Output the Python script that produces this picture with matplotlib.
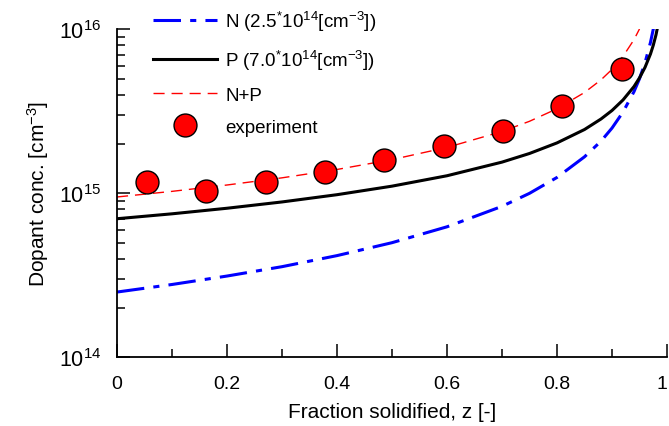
import matplotlib
matplotlib.use("Agg")
import matplotlib.pyplot as plt
from matplotlib.ticker import FixedLocator, MultipleLocator, FormatStrFormatter, LogLocator

plt.rcParams['font.family'] = ['Liberation Sans', 'DejaVu Sans']
plt.rcParams['mathtext.fontset'] = 'custom'
plt.rcParams['mathtext.rm'] = 'Liberation Sans'
plt.rcParams['mathtext.it'] = 'Liberation Sans:italic'

# values
z_curve = [0, 0.1, 0.2, 0.3, 0.4, 0.5, 0.6, 0.7, 0.75, 0.8, 0.85, 0.88, 0.9,
           0.92, 0.94, 0.95, 0.96, 0.97, 0.975, 0.98, 0.985]
conc_n = [2.50e14, 2.78e14, 3.13e14, 3.57e14, 4.17e14, 5.00e14, 6.25e14, 8.33e14,
          1.00e15, 1.25e15, 1.67e15, 2.08e15, 2.50e15, 3.13e15, 4.17e15, 5.00e15,
          6.25e15, 8.33e15, 1.00e16, 1.25e16, 1.67e16]
conc_p = [7.00e14, 7.50e14, 8.11e14, 8.86e14, 9.81e14, 1.106e15, 1.28e15, 1.55e15,
          1.75e15, 2.03e15, 2.45e15, 2.84e15, 3.20e15, 3.71e15, 4.48e15, 5.06e15,
          5.86e15, 7.08e15, 7.99e15, 9.26e15, 1.12e16]
z_sum = [0, 0.1, 0.2, 0.3, 0.4, 0.5, 0.6, 0.7, 0.75, 0.8, 0.85, 0.88, 0.9, 0.92,
         0.94, 0.95]
conc_sum = [9.50e14, 1.028e15, 1.124e15, 1.243e15, 1.398e15, 1.606e15, 1.905e15,
            2.383e15, 2.75e15, 3.28e15, 4.12e15, 4.92e15, 5.70e15, 6.84e15,
            8.65e15, 1.006e16]

z_exp = [0.054, 0.162, 0.270, 0.378, 0.486, 0.594, 0.702, 0.810, 0.918]
conc_exp = [1.17e15, 1.04e15, 1.18e15, 1.35e15, 1.60e15, 1.94e15, 2.40e15, 3.39e15, 5.73e15]

x_ticks = [0, 0.2, 0.4, 0.6, 0.8, 1.0]

fig = plt.figure(figsize=(6.69, 4.27), dpi=100)
ax = fig.add_axes([0.1749, 0.1609, 0.8221, 0.768])

ax.plot(z_curve, conc_n, color='blue', lw=2.2, dashes=(9, 3, 2, 3),
        label=r'N (2.5$^{*}$10$^{14}$[cm$^{-3}$])')
ax.plot(z_curve, conc_p, color='black', lw=2.2,
        label=r'P (7.0$^{*}$10$^{14}$[cm$^{-3}$])')
ax.plot(z_sum, conc_sum, color='red', lw=1.0, dashes=(8, 5), label='N+P')
ax.plot(z_exp, conc_exp, 'o', ms=16.5, mfc='red', mec='black', mew=1.0,
        label='experiment')

ax.set_yscale('log')
ax.set_xlim(0, 1)
ax.set_ylim(1e14, 1e16)

ax.xaxis.set_major_locator(FixedLocator(x_ticks))
ax.xaxis.set_minor_locator(MultipleLocator(0.1))
ax.xaxis.set_major_formatter(FormatStrFormatter('%g'))
ax.yaxis.set_minor_locator(LogLocator(base=10, subs=range(2, 10)))

for s in ['top', 'right']:
    ax.spines[s].set_visible(False)
for s in ['left', 'bottom']:
    ax.spines[s].set_linewidth(1.3)

ax.tick_params(which='major', direction='in', length=9.5, width=1.1)
ax.tick_params(which='minor', direction='in', length=5.5, width=1.1)
ax.tick_params(axis='x', which='major', labelsize=14, pad=13)
ax.tick_params(axis='y', which='major', labelsize=15.5, pad=11)

ax.set_xlabel('Fraction solidified, z [-]', fontsize=15, labelpad=7)
ax.set_ylabel(r'Dopant conc. [cm$^{-3}$]', fontsize=15, labelpad=6)

ax.legend(loc='upper left', bbox_to_anchor=(0.035, 1.115), frameon=False,
          fontsize=13.5, handlelength=3.4, handletextpad=0.45, labelspacing=0.8)

# keep the "1" label inside the figure
fig.canvas.draw()
for tick in ax.xaxis.get_major_ticks():
    if abs(tick.get_loc() - 1.0) < 1e-9:
        tick.label1.set_horizontalalignment('right')

fig.savefig('out.png', dpi=100)
